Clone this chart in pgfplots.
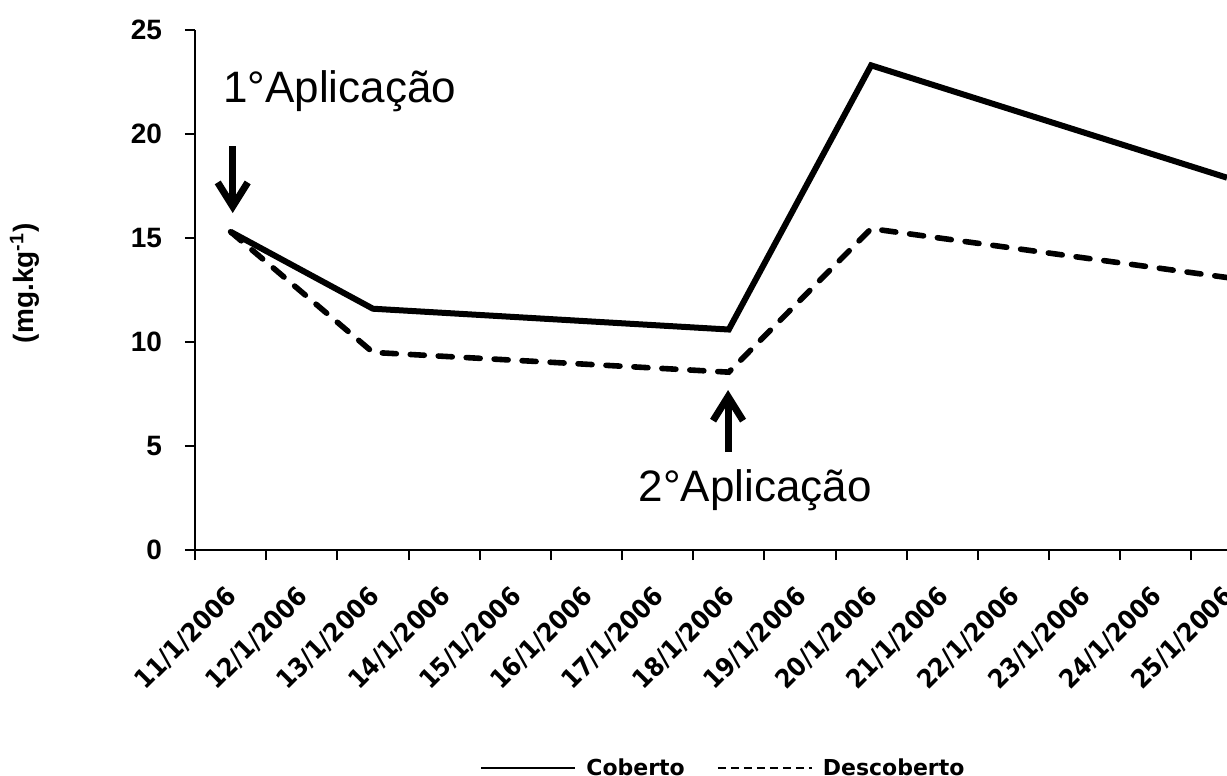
\documentclass[border=0pt]{standalone}
\usepackage{fontspec}
\setmainfont{Liberation Sans}
\newfontfamily\dejavu{DejaVu Sans}
\newfontfamily\dejavuc{DejaVu Sans Condensed}
\usepackage{pgfplots}
\pgfplotsset{compat=1.18}
\usetikzlibrary{arrows.meta}

\begin{document}
\begin{tikzpicture}
\begin{axis}[
  name=ax,
  scale only axis,
  width=516pt, height=260pt,
  xmin=-0.5, xmax=14,
  ymin=0, ymax=25,
  axis lines*=left,
  axis line style={line width=1pt},
  clip=false,
  ytick={0,5,...,25},
  xtick={0,...,14},
  xticklabels={11/1/2006,12/1/2006,13/1/2006,14/1/2006,15/1/2006,16/1/2006,17/1/2006,18/1/2006,19/1/2006,20/1/2006,21/1/2006,22/1/2006,23/1/2006,24/1/2006,25/1/2006},
  minor xtick={-0.5,0.5,...,13.5},
  tick align=outside,
  major tick length=5pt, minor tick length=5pt,
  tick style={line width=1pt, black},
  major x tick style={draw=none},
  /pgf/number format/assume math mode=true,
  yticklabel style={font=\bfseries\fontsize{14}{16}\selectfont, xshift=-8pt},
  xticklabel style={font=\dejavuc\bfseries\fontsize{13}{15}\selectfont,
    inner sep=0pt, xshift=-3pt, yshift=-12pt, rotate=45, anchor=north east},
  ylabel={(mg.kg\textsuperscript{-1})},
  ylabel style={font=\bfseries\fontsize{14}{16}\selectfont,
    at={(axis description cs:-0.165,0.513)}, anchor=center},
  legend style={at={(axis description cs:0.513,-0.42)}, anchor=center,
    draw=none, legend columns=2,
    font=\dejavu\bfseries\fontsize{11}{13}\selectfont,
    /tikz/every even column/.append style={column sep=14pt}},
  legend image code/.code={\draw[#1] (0pt,0pt) -- (47pt,0pt); \path (50pt,0pt);},
]
\addplot[black, line width=3pt, forget plot]
  coordinates {(0,15.3)(2,11.6)(7,10.6)(9,23.3)(14,17.9)};
\addplot[black, line width=2.8pt, line cap=round, dash pattern=on 7pt off 7pt, forget plot]
  coordinates {(0,15.3)(2,9.5)(7,8.55)(9,15.45)(14,13.1)};

\addlegendimage{black, line width=1pt}
\addlegendentry{Coberto}
\addlegendimage{black, line width=1pt, dash pattern=on 4pt off 2.5pt}
\addlegendentry{Descoberto}

\node[anchor=base west, inner sep=0pt, font=\fontsize{22}{26}\selectfont]
  at (axis cs:-0.11,21.5) {1°Aplicação};
\node[anchor=base west, inner sep=0pt, font=\fontsize{22}{26}\selectfont]
  at (axis cs:5.73,2.31) {2°Aplicação};
\draw[line width=3.5pt, -{Straight Barb[length=12pt, width=15pt]}]
  (axis cs:0.03,19.42) -- (axis cs:0.03,16.2);
\draw[line width=3.5pt, -{Straight Barb[length=12pt, width=15pt]}]
  (axis cs:6.99,4.71) -- (axis cs:6.99,7.69);
\end{axis}
\pgfresetboundingbox
\path[use as bounding box] ([xshift=-97.5pt,yshift=-113pt]ax.south west)
  rectangle ([yshift=15pt]ax.north east);
\end{tikzpicture}
\end{document}
